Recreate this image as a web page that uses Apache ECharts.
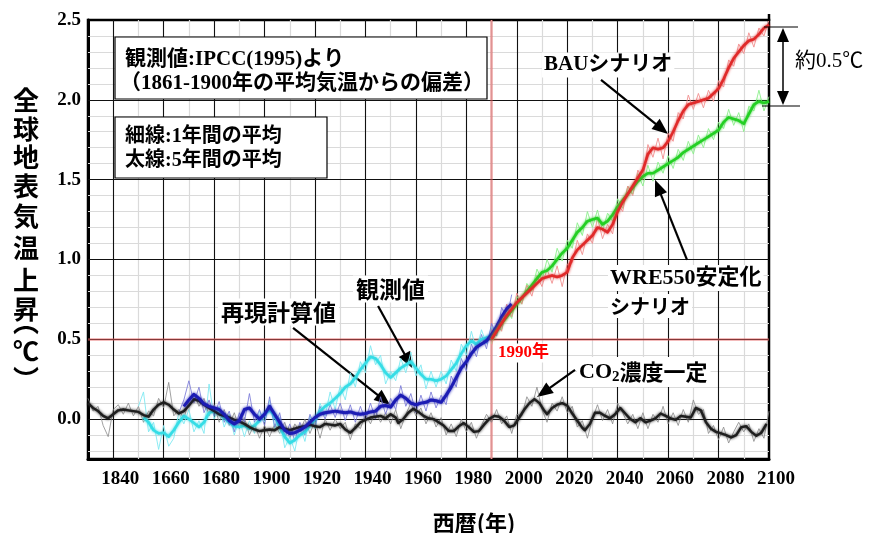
<!DOCTYPE html>
<html>
<head>
<meta charset="utf-8">
<script src="https://cdn.jsdelivr.net/npm/echarts@6/dist/echarts.min.js"></script>
<style>
  html, body { margin: 0; padding: 0; background: #fff; }
  #chart { width: 869px; height: 533px; }
</style>
</head>
<body>
<div id="chart"></div>
<script>
// Axis ticks (labels as printed on the figure)
const xTickValues = [1840, 1860, 1880, 1900, 1920, 1940, 1960, 1980, 2000, 2020, 2040, 2060, 2080, 2100];
const xTickLabels = ['1840', '1660', '1680', '1900', '1920', '1940', '1960', '1980', '2000', '2020', '2040', '2060', '2080', '2100'];
const yTickValues = [0, 0.5, 1, 1.5, 2, 2.5];
const yTickLabels = ['0.0', '0.5', '1.0', '1.5', '2.0', '2.5'];

// Grid lines
const majorGridYears = [1840, 1860, 1880, 1900, 1920, 1940, 1960, 1980, 2000, 2020, 2040, 2060, 2080];
const minorGridYears = [1850, 1870, 1890, 1910, 1930, 1950, 1970, 1990, 2010, 2030, 2050, 2070, 2090];
const majorGridTemps = [0, 0.5, 1, 1.5, 2];
const minorGridTemps = [-0.2, -0.1, 0.1, 0.2, 0.3, 0.4, 0.6, 0.7, 0.8, 0.9, 1.1, 1.2, 1.3, 1.4,
                        1.6, 1.7, 1.8, 1.9, 2.1, 2.2, 2.3, 2.4];
const referenceYear = 1990;
const referenceTemp = 0.5;

// CO2 concentration held constant: 5-year mean [year, anomaly]
const co2ConstSmooth = [
  [1830, 0.10], [1832, 0.07], [1834, 0.05], [1836, 0.02], [1838, 0.005], [1840, 0.03], [1842, 0.055],
  [1844, 0.06], [1846, 0.055], [1848, 0.05], [1850, 0.045], [1852, 0.025], [1854, 0.015], [1856, 0.06],
  [1858, 0.09], [1860, 0.105], [1862, 0.09], [1864, 0.06], [1866, 0.035], [1868, 0.05], [1870, 0.085],
  [1872, 0.125], [1874, 0.115], [1876, 0.09], [1878, 0.07], [1880, 0.05], [1882, 0.03], [1884, 0.02],
  [1886, 0.01], [1888, -0.005], [1890, -0.015], [1892, -0.03], [1894, -0.05], [1896, -0.065], [1898, -0.075],
  [1900, -0.07], [1902, -0.065], [1904, -0.07], [1906, -0.05], [1908, -0.06], [1910, -0.07], [1912, -0.06],
  [1914, -0.05], [1916, -0.045], [1918, -0.035], [1920, -0.045], [1922, -0.05], [1924, -0.03], [1926, -0.035],
  [1928, -0.04], [1930, -0.03], [1932, -0.065], [1934, -0.085], [1936, -0.055], [1938, -0.02], [1940, -0.005],
  [1942, 0.01], [1944, 0.015], [1946, 0.02], [1948, 0.005], [1950, 0.03], [1952, 0.01], [1953, -0.025],
  [1955, 0.0], [1957, 0.04], [1959, 0.065], [1961, 0.045], [1963, 0.02], [1965, 0.005], [1967, 0.0],
  [1969, -0.02], [1971, -0.04], [1973, -0.075], [1975, -0.075], [1977, -0.045], [1979, -0.025], [1981, -0.05],
  [1983, -0.08], [1985, -0.075], [1987, -0.035], [1989, 0.0], [1991, 0.02], [1993, 0.015], [1995, -0.01],
  [1997, -0.05], [1999, -0.04], [2001, 0.01], [2003, 0.06], [2005, 0.10], [2007, 0.125], [2009, 0.10],
  [2011, 0.05], [2012, 0.03], [2014, 0.07], [2016, 0.09], [2018, 0.10], [2020, 0.085], [2022, 0.035],
  [2024, -0.01], [2026, -0.055], [2027, -0.07], [2029, -0.03], [2031, 0.04], [2033, 0.04], [2035, 0.02],
  [2037, 0.005], [2039, 0.03], [2041, 0.07], [2043, 0.035], [2045, 0.0], [2047, -0.02], [2049, 0.005],
  [2051, -0.02], [2053, -0.01], [2055, 0.005], [2057, 0.035], [2059, 0.02], [2061, 0.005], [2063, -0.005],
  [2065, 0.02], [2067, 0.015], [2069, 0.01], [2071, 0.07], [2073, 0.055], [2075, -0.02], [2077, -0.06],
  [2079, -0.08], [2081, -0.09], [2083, -0.10], [2085, -0.115], [2087, -0.10], [2089, -0.05], [2091, -0.045],
  [2093, -0.08], [2095, -0.105], [2097, -0.085], [2099, -0.03]
];
// CO2 concentration held constant: annual values
const co2ConstAnnual = [
  [1830, 0.13], [1832, 0.05], [1834, 0.08], [1836, -0.04], [1838, -0.11], [1840, 0.06], [1842, 0.09],
  [1844, 0.03], [1846, 0.10], [1848, 0.02], [1850, 0.08], [1852, -0.02], [1854, 0.05], [1856, 0.02],
  [1858, 0.13], [1860, 0.07], [1862, 0.23], [1864, 0.02], [1866, 0.06], [1868, 0.0], [1870, 0.12],
  [1872, 0.16], [1874, 0.08], [1876, 0.13], [1878, 0.02], [1880, 0.09], [1882, -0.02], [1884, 0.06],
  [1886, -0.04], [1888, 0.04], [1890, -0.06], [1892, 0.01], [1894, -0.10], [1896, -0.03], [1898, -0.12],
  [1900, -0.04], [1902, -0.11], [1904, -0.03], [1906, -0.09], [1908, -0.02], [1910, -0.12], [1912, -0.03],
  [1914, -0.08], [1916, 0.0], [1918, -0.09], [1920, -0.01], [1922, -0.12], [1924, 0.0], [1926, -0.07],
  [1928, 0.0], [1930, -0.06], [1932, -0.02], [1934, -0.13], [1936, -0.03], [1938, -0.06], [1940, 0.03],
  [1942, -0.03], [1944, 0.05], [1946, -0.02], [1948, 0.04], [1950, -0.03], [1952, 0.06], [1954, -0.06],
  [1956, 0.03], [1958, 0.10], [1960, 0.02], [1962, 0.07], [1964, -0.03], [1966, 0.04], [1968, -0.05],
  [1970, 0.01], [1972, -0.10], [1974, -0.03], [1976, -0.11], [1978, 0.0], [1980, -0.08], [1982, -0.02],
  [1984, -0.12], [1986, -0.04], [1988, 0.03], [1990, -0.02], [1992, 0.06], [1994, -0.03], [1996, 0.02],
  [1998, -0.09], [2000, 0.03], [2002, 0.02], [2004, 0.14], [2006, 0.08], [2008, 0.20], [2010, 0.06],
  [2012, -0.02], [2014, 0.10], [2016, 0.05], [2018, 0.14], [2020, 0.04], [2022, 0.08], [2024, -0.05],
  [2026, -0.01], [2028, -0.12], [2030, 0.0], [2032, 0.09], [2034, -0.01], [2036, 0.06], [2038, -0.03],
  [2040, 0.10], [2042, 0.04], [2044, -0.03], [2046, 0.03], [2048, -0.06], [2050, 0.04], [2052, -0.06],
  [2054, 0.03], [2056, -0.02], [2058, 0.08], [2060, -0.03], [2062, 0.04], [2064, -0.04], [2066, 0.06],
  [2068, -0.02], [2070, 0.12], [2072, 0.03], [2074, 0.06], [2076, -0.09], [2078, -0.04], [2080, -0.13],
  [2082, -0.05], [2084, -0.15], [2086, -0.08], [2088, -0.02], [2090, -0.08], [2092, -0.03], [2094, -0.14],
  [2096, -0.06], [2098, -0.12], [2100, 0.05]
];

// Observations (IPCC 1995): 5-year mean and annual values
const obsSmooth = [
  [1852, 0.01], [1854, -0.02], [1856, -0.07], [1858, -0.09], [1860, -0.085], [1862, -0.11], [1864, -0.07],
  [1866, -0.02], [1868, 0.02], [1870, 0.0], [1872, -0.025], [1874, -0.05], [1876, -0.02], [1878, 0.04],
  [1880, 0.05], [1882, 0.035], [1884, 0.01], [1886, -0.02], [1888, -0.045], [1890, -0.05], [1892, -0.04],
  [1894, -0.06], [1896, -0.04], [1898, -0.01], [1900, 0.03], [1902, 0.06], [1904, 0.02], [1906, -0.05],
  [1908, -0.11], [1910, -0.15], [1912, -0.13], [1914, -0.10], [1916, -0.08], [1918, -0.04], [1920, 0.0],
  [1922, 0.05], [1924, 0.08], [1926, 0.10], [1928, 0.13], [1930, 0.16], [1932, 0.20], [1934, 0.22],
  [1936, 0.26], [1938, 0.31], [1940, 0.35], [1942, 0.39], [1944, 0.38], [1946, 0.34], [1948, 0.29],
  [1950, 0.26], [1952, 0.29], [1954, 0.32], [1956, 0.34], [1958, 0.36], [1960, 0.32], [1962, 0.28],
  [1964, 0.25], [1966, 0.25], [1968, 0.24], [1970, 0.25], [1972, 0.27], [1974, 0.31], [1976, 0.35],
  [1978, 0.41], [1980, 0.46], [1982, 0.49], [1984, 0.47], [1986, 0.50], [1988, 0.51], [1990, 0.52],
  [1992, 0.56], [1994, 0.60]
];
const obsAnnual = [
  [1850, 0.08], [1852, 0.17], [1854, -0.08], [1856, -0.02], [1858, -0.19], [1860, -0.04], [1862, -0.17],
  [1864, -0.12], [1866, 0.04], [1868, -0.03], [1870, 0.06], [1872, -0.08], [1874, -0.01], [1876, -0.09],
  [1878, 0.22], [1880, 0.0], [1882, 0.08], [1884, -0.05], [1886, 0.03], [1888, -0.10], [1890, 0.0],
  [1892, -0.11], [1894, -0.01], [1896, -0.09], [1898, 0.05], [1900, -0.02], [1902, 0.12], [1904, -0.06],
  [1906, 0.01], [1908, -0.18], [1910, -0.11], [1912, -0.20], [1914, -0.04], [1916, -0.14], [1918, 0.02],
  [1920, -0.06], [1922, 0.10], [1924, 0.02], [1926, 0.17], [1928, 0.06], [1930, 0.21], [1932, 0.12],
  [1934, 0.29], [1936, 0.20], [1938, 0.36], [1940, 0.29], [1942, 0.46], [1944, 0.34], [1946, 0.40],
  [1948, 0.22], [1950, 0.30], [1952, 0.24], [1954, 0.38], [1956, 0.29], [1958, 0.42], [1960, 0.27],
  [1962, 0.34], [1964, 0.19], [1966, 0.30], [1968, 0.20], [1970, 0.30], [1972, 0.22], [1974, 0.37],
  [1976, 0.30], [1978, 0.47], [1980, 0.40], [1982, 0.55], [1984, 0.43], [1986, 0.56], [1988, 0.47],
  [1990, 0.58], [1992, 0.52], [1994, 0.65]
];

// Model reproduction of the past climate: 5-year mean and annual values
const simSmooth = [
  [1868, 0.08], [1870, 0.12], [1872, 0.155], [1874, 0.13], [1876, 0.095], [1878, 0.08], [1880, 0.07],
  [1882, 0.06], [1884, 0.03], [1886, -0.01], [1888, -0.03], [1890, -0.01], [1892, 0.06], [1894, 0.07],
  [1896, 0.03], [1898, 0.0], [1900, 0.03], [1902, 0.08], [1904, 0.03], [1906, -0.02], [1908, -0.07],
  [1910, -0.09], [1912, -0.085], [1914, -0.07], [1916, -0.05], [1918, -0.02], [1920, 0.01], [1922, 0.03],
  [1924, 0.04], [1926, 0.045], [1928, 0.05], [1930, 0.045], [1932, 0.04], [1934, 0.045], [1936, 0.035],
  [1938, 0.03], [1940, 0.035], [1942, 0.045], [1944, 0.05], [1946, 0.08], [1948, 0.085], [1950, 0.075],
  [1952, 0.12], [1954, 0.15], [1956, 0.13], [1958, 0.10], [1960, 0.09], [1962, 0.10], [1964, 0.105],
  [1966, 0.12], [1968, 0.115], [1970, 0.105], [1972, 0.15], [1974, 0.20], [1976, 0.26], [1978, 0.32],
  [1980, 0.36], [1982, 0.41], [1984, 0.45], [1986, 0.47], [1988, 0.49], [1990, 0.53], [1992, 0.58],
  [1994, 0.64], [1996, 0.69], [1998, 0.72]
];
const simAnnual = [
  [1866, 0.04], [1868, 0.12], [1870, 0.24], [1872, 0.10], [1874, 0.20], [1876, 0.04], [1878, 0.12],
  [1880, 0.02], [1882, 0.11], [1884, -0.02], [1886, 0.05], [1888, -0.08], [1890, 0.04], [1892, -0.02],
  [1894, 0.16], [1896, -0.02], [1898, 0.06], [1900, -0.04], [1902, 0.14], [1904, -0.05], [1906, 0.04],
  [1908, -0.12], [1910, -0.03], [1912, -0.14], [1914, -0.02], [1916, -0.10], [1918, 0.03], [1920, -0.05],
  [1922, 0.08], [1924, 0.0], [1926, 0.09], [1928, 0.01], [1930, 0.10], [1932, -0.01], [1934, 0.09],
  [1936, -0.02], [1938, 0.08], [1940, -0.01], [1942, 0.10], [1944, 0.0], [1946, 0.14], [1948, 0.03],
  [1950, 0.13], [1952, 0.06], [1954, 0.21], [1956, 0.08], [1958, 0.16], [1960, 0.04], [1962, 0.15],
  [1964, 0.05], [1966, 0.17], [1968, 0.07], [1970, 0.15], [1972, 0.09], [1974, 0.27], [1976, 0.20],
  [1978, 0.38], [1980, 0.30], [1982, 0.47], [1984, 0.39], [1986, 0.53], [1988, 0.44], [1990, 0.60],
  [1992, 0.52], [1994, 0.70], [1996, 0.63], [1998, 0.78]
];

// BAU scenario: 5-year mean and annual values
const bauSmooth = [
  [1990, 0.50], [1992, 0.55], [1994, 0.60], [1996, 0.65], [1998, 0.69], [2000, 0.73], [2002, 0.76],
  [2004, 0.79], [2006, 0.82], [2008, 0.85], [2010, 0.88], [2012, 0.89], [2014, 0.90], [2016, 0.89],
  [2018, 0.90], [2020, 0.92], [2022, 1.01], [2024, 1.06], [2026, 1.09], [2028, 1.12], [2030, 1.15],
  [2032, 1.20], [2034, 1.19], [2036, 1.17], [2038, 1.22], [2040, 1.30], [2042, 1.36], [2044, 1.41],
  [2046, 1.46], [2048, 1.51], [2050, 1.56], [2052, 1.66], [2054, 1.70], [2056, 1.69], [2058, 1.70],
  [2060, 1.74], [2062, 1.80], [2064, 1.87], [2066, 1.93], [2068, 1.97], [2070, 1.98], [2072, 1.99],
  [2074, 2.00], [2076, 2.01], [2078, 2.04], [2080, 2.07], [2082, 2.13], [2084, 2.20], [2086, 2.26],
  [2088, 2.30], [2090, 2.34], [2092, 2.37], [2094, 2.38], [2096, 2.41], [2098, 2.45], [2100, 2.47]
];
const bauAnnual = [
  [1990, 0.46], [1992, 0.60], [1994, 0.55], [1996, 0.72], [1998, 0.64], [2000, 0.79], [2002, 0.72],
  [2004, 0.84], [2006, 0.77], [2008, 0.90], [2010, 0.83], [2012, 0.94], [2014, 0.85], [2016, 0.96],
  [2018, 0.83], [2020, 0.97], [2022, 0.98], [2024, 1.12], [2026, 1.03], [2028, 1.16], [2030, 1.10],
  [2032, 1.26], [2034, 1.13], [2036, 1.22], [2038, 1.16], [2040, 1.35], [2042, 1.30], [2044, 1.46],
  [2046, 1.40], [2048, 1.56], [2050, 1.50], [2052, 1.72], [2054, 1.64], [2056, 1.76], [2058, 1.63],
  [2060, 1.79], [2062, 1.74], [2064, 1.92], [2066, 1.88], [2068, 2.03], [2070, 1.94], [2072, 2.04],
  [2074, 1.95], [2076, 2.06], [2078, 1.99], [2080, 2.12], [2082, 2.08], [2084, 2.25], [2086, 2.21],
  [2088, 2.35], [2090, 2.29], [2092, 2.42], [2094, 2.33], [2096, 2.45], [2098, 2.40], [2100, 2.50]
];

// WRE550 stabilisation scenario: 5-year mean and annual values
const wreSmooth = [
  [1990, 0.50], [1992, 0.55], [1994, 0.60], [1996, 0.64], [1998, 0.68], [2000, 0.72], [2002, 0.76],
  [2004, 0.80], [2006, 0.84], [2008, 0.88], [2010, 0.92], [2012, 0.93], [2014, 0.96], [2016, 1.00],
  [2018, 1.04], [2020, 1.07], [2022, 1.12], [2024, 1.17], [2026, 1.20], [2028, 1.24], [2030, 1.25],
  [2032, 1.26], [2034, 1.22], [2036, 1.24], [2038, 1.28], [2040, 1.33], [2042, 1.37], [2044, 1.41],
  [2046, 1.45], [2048, 1.49], [2050, 1.52], [2052, 1.54], [2054, 1.54], [2056, 1.56], [2058, 1.58],
  [2060, 1.60], [2062, 1.62], [2064, 1.64], [2066, 1.67], [2068, 1.69], [2070, 1.71], [2072, 1.73],
  [2074, 1.75], [2076, 1.77], [2078, 1.79], [2080, 1.81], [2082, 1.86], [2084, 1.89], [2086, 1.88],
  [2088, 1.87], [2090, 1.85], [2092, 1.91], [2094, 1.97], [2096, 1.99], [2098, 1.98], [2100, 1.99]
];
const wreAnnual = [
  [1990, 0.47], [1992, 0.58], [1994, 0.56], [1996, 0.69], [1998, 0.63], [2000, 0.77], [2002, 0.72],
  [2004, 0.85], [2006, 0.80], [2008, 0.94], [2010, 0.87], [2012, 1.00], [2014, 0.92], [2016, 1.07],
  [2018, 0.99], [2020, 1.12], [2022, 1.07], [2024, 1.23], [2026, 1.15], [2028, 1.30], [2030, 1.20],
  [2032, 1.31], [2034, 1.18], [2036, 1.29], [2038, 1.24], [2040, 1.38], [2042, 1.32], [2044, 1.46],
  [2046, 1.41], [2048, 1.54], [2050, 1.46], [2052, 1.59], [2054, 1.49], [2056, 1.61], [2058, 1.54],
  [2060, 1.65], [2062, 1.57], [2064, 1.69], [2066, 1.62], [2068, 1.74], [2070, 1.66], [2072, 1.78],
  [2074, 1.70], [2076, 1.82], [2078, 1.75], [2080, 1.86], [2082, 1.82], [2084, 1.94], [2086, 1.84],
  [2088, 1.92], [2090, 1.80], [2092, 1.96], [2094, 1.93], [2096, 2.06], [2098, 1.93], [2100, 2.02]
];

// Callout arrows: [from, to] in [year, anomaly]
const calloutArrows = [
  [[2033.4, 2.125], [2057.5, 1.818]],   // BAUシナリオ
  [[2067.5, 0.997], [2056.0, 1.452]],   // WRE550安定化シナリオ
  [[1945.0, 0.709], [1957.0, 0.364]],   // 観測値
  [[1911.3, 0.571], [1947.3, 0.120]],   // 再現計算値
  [[2023.1, 0.308], [2010.6, 0.167]]    // CO2濃度一定
];

const SERIF_JP = '"Liberation Serif", "Noto Sans CJK JP", serif';
const SANS_JP = '"Noto Sans CJK JP", sans-serif';

const chart = echarts.init(document.getElementById('chart'), null, { renderer: 'canvas' });

function lineSeries(name, data, color, width, z, opacity, glow) {
  return {
    name, type: 'line', data, z, silent: true, animation: false,
    symbol: 'none', showSymbol: false,
    lineStyle: {
      color, width, opacity: opacity == null ? 1 : opacity, join: 'round',
      shadowColor: glow ? color : 'transparent', shadowBlur: glow ? 3 : 0
    }
  };
}

const minorStyle = { color: '#dadada', width: 1.2, type: 'solid' };
const majorStyle = { color: '#111', width: 1.1, type: 'solid' };
const refStyle = { color: 'rgba(225,90,90,0.55)', width: 2.5, type: 'solid' };

// All background rulings go into one marker layer, ordered minor → major → reference
const rulings = []
  .concat(minorGridYears.map(v => ({ xAxis: v, lineStyle: minorStyle })))
  .concat(minorGridTemps.map(v => ({ yAxis: v, lineStyle: minorStyle })))
  .concat(majorGridYears.map(v => ({ xAxis: v, lineStyle: majorStyle })))
  .concat(majorGridTemps.map(v => ({ yAxis: v, lineStyle: majorStyle })))
  .concat([{ xAxis: referenceYear, lineStyle: refStyle }, { yAxis: referenceTemp, lineStyle: refStyle }]);

const series = [
  {
    name: 'rulings', type: 'line', data: [], z: 3, silent: true, animation: false, clip: false,
    markLine: {
      silent: true, animation: false, symbol: ['none', 'none'], precision: 3,
      label: { show: false }, emphasis: { disabled: true },
      data: rulings
    }
  },

  lineSeries('CO2濃度一定 1年', co2ConstAnnual, '#8a8a8a', 1, 5, 0.8),
  lineSeries('観測値 1年', obsAnnual, '#7fe9f2', 1, 5, 0.9),
  lineSeries('再現計算値 1年', simAnnual, '#7a7ad8', 1, 6, 0.85),
  lineSeries('WRE550 1年', wreAnnual, '#8cf08c', 1, 6, 0.9),
  lineSeries('BAU 1年', bauAnnual, '#f29090', 1, 6, 0.9),

  lineSeries('観測値', obsSmooth, '#35dde6', 2.6, 7, 1, true),
  lineSeries('CO2濃度一定', co2ConstSmooth, '#1e1e1e', 2.4, 8, 1, true),
  lineSeries('再現計算値', simSmooth, '#1c1cb4', 3, 9, 1, true),
  lineSeries('WRE550安定化シナリオ', wreSmooth, '#24cf24', 2.6, 9, 1, true),
  lineSeries('BAUシナリオ', bauSmooth, '#e02a2a', 2.6, 10, 1, true),

  {
    name: 'callouts', type: 'line', data: [], z: 20, silent: true, animation: false, clip: false,
    markLine: {
      silent: true, animation: false,
      symbol: ['none', 'triangle'], symbolSize: [13, 16],
      label: { show: false }, emphasis: { disabled: true },
      lineStyle: { color: '#000', width: 2.2, type: 'solid' },
      itemStyle: { color: '#000' },
      data: calloutArrows.map(a => [{ coord: a[0] }, { coord: a[1] }])
    }
  }
];

// Vertical axis title, one character per line; the vertical-form brackets sit at the
// inner edge of their cells, so their anchors are moved outwards
const yTitleChars = [
  ['全', 100], ['球', 129], ['地', 157], ['表', 186], ['気', 216], ['温', 248],
  ['上', 280], ['昇', 309], ['︵', 322], ['℃', 351], ['︶', 379]
];

function label(x, y, text, font, extra) {
  return {
    type: 'text', x, y, z: 100, silent: true,
    style: Object.assign({ text, font, fill: '#000', align: 'left', verticalAlign: 'middle' }, extra || {})
  };
}

const graphics = [
  // note boxes
  { type: 'rect', z: 90, silent: true, shape: { x: 115, y: 37, width: 372, height: 62 },
    style: { fill: '#fff', stroke: '#000', lineWidth: 1.2 } },
  label(125, 60, '観測値:IPCC(1995)より', 'bold 21px ' + SERIF_JP),
  label(120, 84, '（1861-1900年の平均気温からの偏差）', 'bold 21px ' + SERIF_JP),
  { type: 'rect', z: 90, silent: true, shape: { x: 115, y: 117, width: 212, height: 61 },
    style: { fill: '#fff', stroke: '#000', lineWidth: 1.2 } },
  label(125, 137, '細線:1年間の平均', 'bold 20px ' + SERIF_JP),
  label(125, 161, '太線:5年間の平均', 'bold 20px ' + SERIF_JP),

  // series callouts
  label(542, 65, 'BAUシナリオ', 'bold 21px ' + SERIF_JP, { backgroundColor: '#fff', padding: [2, 2, 2, 2] }),
  label(608, 278, 'WRE550安定化', 'bold 22px ' + SERIF_JP, { backgroundColor: '#fff', padding: [2, 2, 2, 2] }),
  label(608, 306, 'シナリオ', 'bold 20px ' + SANS_JP, { backgroundColor: '#fff', padding: [2, 2, 2, 2] }),
  label(353, 289, '観測値', 'bold 23px ' + SANS_JP, { backgroundColor: '#fff', padding: [2, 3, 2, 3] }),
  label(218, 312, '再現計算値', 'bold 23px ' + SANS_JP, { backgroundColor: '#fff', padding: [2, 3, 2, 3] }),
  label(497, 353, '1990年', 'bold 17px ' + SERIF_JP, { fill: '#ff0000', backgroundColor: '#fff', padding: [1, 1, 1, 1] }),
  {
    type: 'text', x: 577, y: 372, z: 100, silent: true,
    style: {
      text: '{c|CO}{s|2}{j|濃度一定}', align: 'left', verticalAlign: 'middle',
      backgroundColor: '#fff', padding: [2, 3, 2, 2],
      rich: {
        c: { font: 'bold 22px ' + SERIF_JP, fill: '#000', lineHeight: 26, verticalAlign: 'middle' },
        s: { font: 'bold 15px ' + SERIF_JP, fill: '#000', lineHeight: 15, verticalAlign: 'bottom' },
        j: { font: 'bold 22px ' + SANS_JP, fill: '#000', lineHeight: 26, verticalAlign: 'middle' }
      }
    }
  },

  // difference bracket between the two scenarios at 2100
  { type: 'line', z: 100, silent: true, shape: { x1: 764, y1: 27, x2: 798, y2: 27 }, style: { stroke: '#000', lineWidth: 1.2 } },
  { type: 'line', z: 100, silent: true, shape: { x1: 762, y1: 106, x2: 800, y2: 106 }, style: { stroke: '#000', lineWidth: 1.2 } },
  { type: 'line', z: 100, silent: true, shape: { x1: 783, y1: 36, x2: 783, y2: 97 }, style: { stroke: '#000', lineWidth: 1.5 } },
  { type: 'polygon', z: 100, silent: true, shape: { points: [[783, 28], [777, 42], [789, 42]] }, style: { fill: '#000' } },
  { type: 'polygon', z: 100, silent: true, shape: { points: [[783, 105], [777, 91], [789, 91]] }, style: { fill: '#000' } },
  label(795, 61, '約0.5℃', '21px ' + SERIF_JP),

  // frame tick above the right border
  { type: 'line', z: 100, silent: true, shape: { x1: 769, y1: 14, x2: 769, y2: 21 }, style: { stroke: '#000', lineWidth: 2.5 } },

  // horizontal axis title
  {
    type: 'text', x: 474, y: 523, z: 100, silent: true,
    style: { text: '西暦(年)', font: 'bold 22px ' + SANS_JP, fill: '#000', align: 'center', verticalAlign: 'middle' }
  }
].concat(yTitleChars.map(([ch, y]) => ({
  type: 'text', x: 26, y, z: 100, silent: true,
  style: { text: ch, font: 'bold 26px ' + SANS_JP, fill: '#000', align: 'center', verticalAlign: 'middle' }
})));

chart.setOption({
  animation: false,
  backgroundColor: '#fff',
  grid: {
    left: 88, right: 100, top: 20, bottom: 74,
    show: true, borderColor: '#000', borderWidth: 2.5
  },
  xAxis: {
    type: 'value', min: 1830, max: 2100,
    axisLine: { show: true, onZero: false, lineStyle: { color: '#000', width: 3 } },
    axisTick: { show: false },
    splitLine: { show: false },
    axisLabel: {
      customValues: xTickValues,
      formatter: v => { const i = xTickValues.indexOf(v); return i < 0 ? '' : xTickLabels[i]; },
      margin: 11, padding: [0, 0, 0, 14],
      color: '#000', fontFamily: '"Liberation Serif", serif', fontWeight: 'bold', fontSize: 19
    }
  },
  yAxis: {
    type: 'value', min: -0.25, max: 2.5,
    axisLine: { show: true, onZero: false, lineStyle: { color: '#000', width: 3 } },
    axisTick: { show: false },
    splitLine: { show: false },
    axisLabel: {
      customValues: yTickValues,
      formatter: v => { const i = yTickValues.findIndex(t => Math.abs(t - v) < 1e-6); return i < 0 ? '' : yTickLabels[i]; },
      margin: 7,
      color: '#000', fontFamily: '"Liberation Serif", serif', fontWeight: 'bold', fontSize: 19
    }
  },
  series,
  graphic: graphics
});
</script>
</body>
</html>
